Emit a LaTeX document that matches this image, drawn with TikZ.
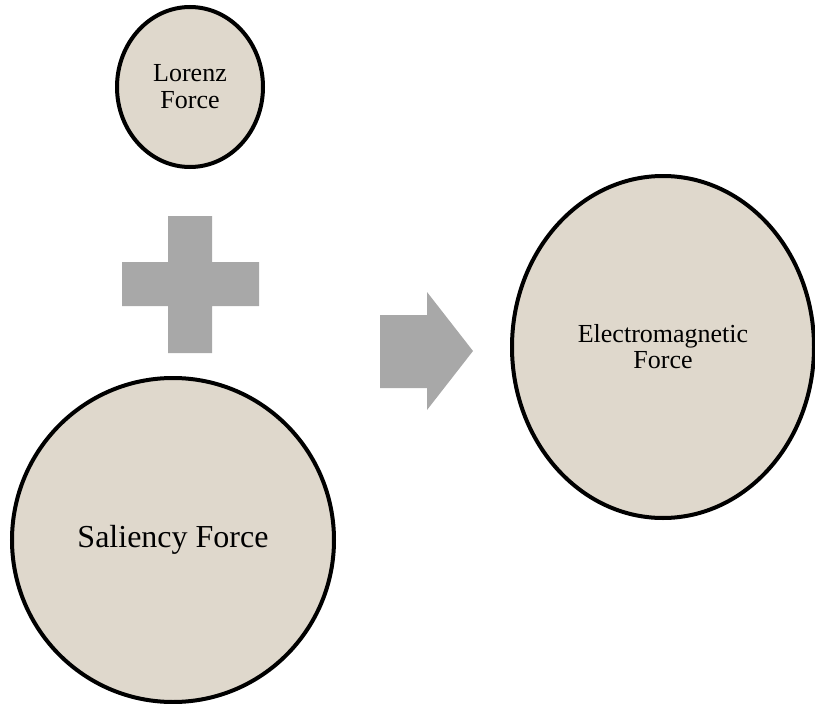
\documentclass[tikz,border=0pt]{standalone}
\usepackage{fontspec}
\setmainfont{Liberation Serif}
\usepackage{tikz}
\usetikzlibrary{shapes.geometric}

\definecolor{paper}{RGB}{223,216,204}
\definecolor{blockgray}{RGB}{168,168,168}

\begin{document}
\begin{tikzpicture}[x=1pt,y=-1pt,
        force/.style={ellipse,draw=black,line width=4pt,fill=paper,inner sep=0pt,align=center},
        block/.style={fill=blockgray}]
        \useasboundingbox (0,0) rectangle (815,704);

        \node[force,minimum width=146pt,minimum height=160pt,font=\fontsize{26}{27}\selectfont] (lorenz) at (190,87) {Lorenz\\Force};
        \node[force,minimum width=322pt,minimum height=324pt,font=\fontsize{32}{34}\selectfont] (saliency) at (173,540) {Saliency Force};
        \node[force,minimum width=302pt,minimum height=342pt,font=\fontsize{26}{26}\selectfont] (electro) at (663,347) {Electromagnetic\\Force};

        \fill[block] (168,216) -- (212,216) -- (212,262) -- (259,262) -- (259,306) -- (212,306)
                -- (212,353) -- (168,353) -- (168,306) -- (122,306) -- (122,262) -- (168,262) -- cycle;
        \fill[block] (380,315) -- (427,315) -- (427,292) -- (473,351) -- (427,410) -- (427,388) -- (380,388) -- cycle;
    \end{tikzpicture}
\end{document}
